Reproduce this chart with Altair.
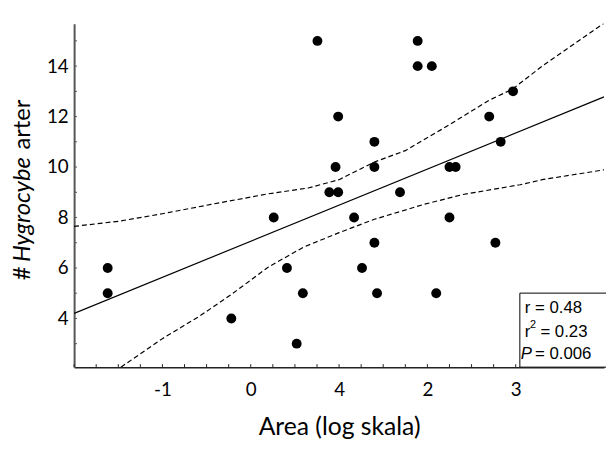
import altair as alt
import pandas as pd

# ---- data ----
area_log = [-1.62, -1.62, -0.22, 0.26, 0.41, 0.59, 0.52, 0.755, 0.89, 0.99,
            0.96, 0.99, 1.17, 1.26, 1.40, 1.40, 1.40, 1.43, 1.69, 1.89,
            1.89, 2.05, 2.10, 2.25, 2.32, 2.25, 2.70, 2.77, 2.83, 2.97]
species = [6, 5, 4, 8, 6, 5, 3, 15, 9, 9,
           10, 12, 8, 6, 11, 10, 7, 5, 9, 15,
           14, 14, 5, 10, 10, 8, 12, 7, 11, 13]

fit_x = [-2.0, 4.0]
fit_y = [4.2, 12.78]

upper_x = [-2.0, -1.5, -1.0, -0.45, 0.2, 0.65, 1.0, 1.4, 1.75, 2.18, 2.7, 2.96, 3.3, 4.0]
upper_y = [7.65, 7.85, 8.15, 8.52, 8.94, 9.17, 9.5, 10.2, 10.65, 11.53, 12.65, 13.08, 14.0, 15.7]

lower_x = [-1.47, -1.0, -0.58, -0.22, 0.2, 0.6, 1.0, 1.4, 1.96, 2.4, 3.05, 3.3, 4.0]
lower_y = [2.07, 3.2, 4.09, 4.95, 6.04, 6.83, 7.4, 7.93, 8.52, 8.91, 9.3, 9.5, 9.89]

x_tick_values = [-1, 0, 1, 2, 3]
x_tick_labels = ["-1", "0", "4", "2", "3"]
y_tick_values = [4, 6, 8, 10, 12, 14]
x_minor = [-2 + 0.25 * i for i in range(25)]
y_minor = list(range(3, 16))

stats_lines = ["r = 0.48", "= 0.23", "= 0.006"]
y_title_parts = ["#", "Hygrocybe", "arter"]

W, H = 537, 348
XD = [-2, 4]
YD = [2.07, 15.68]
FONT = "Lato"

xs = alt.Scale(domain=XD, nice=False, zero=False)
ys = alt.Scale(domain=YD, nice=False, zero=False)

label_expr = "[" + ",".join("'%s'" % s for s in x_tick_labels) + "][datum.value + 1]"

pts = pd.DataFrame({"x": area_log, "y": species})
fit = pd.DataFrame({"x": fit_x, "y": fit_y})
up = pd.DataFrame({"x": upper_x, "y": upper_y})
lo = pd.DataFrame({"x": lower_x, "y": lower_y})

xaxis = alt.Axis(values=x_tick_values, labelExpr=label_expr, grid=False, ticks=False,
                 labelFont=FONT, labelFontSize=19, labelColor="black", labelPadding=14,
                 domainColor="#222", domainWidth=1.5,
                 title="Area (log skala)", titleFont=FONT, titleFontSize=25,
                 titleFontWeight="normal", titleColor="black", titlePadding=15)
yaxis = alt.Axis(values=y_tick_values, grid=False, ticks=False,
                 labelFont=FONT, labelFontSize=19, labelColor="black", labelPadding=6,
                 domainColor="#555", domainWidth=2, title=None)

base_pts = alt.Chart(pts).mark_circle(size=100, color="black", opacity=1).encode(
    x=alt.X("x:Q", scale=xs, axis=xaxis),
    y=alt.Y("y:Q", scale=ys, axis=yaxis),
)

fit_line = alt.Chart(fit).mark_line(color="black", strokeWidth=1.2, clip=True).encode(
    x=alt.X("x:Q", scale=xs), y=alt.Y("y:Q", scale=ys))
up_line = alt.Chart(up).mark_line(color="black", strokeWidth=1.2, strokeDash=[5, 3],
                                  clip=True).encode(
    x=alt.X("x:Q", scale=xs), y=alt.Y("y:Q", scale=ys))
lo_line = alt.Chart(lo).mark_line(color="black", strokeWidth=1.2, strokeDash=[5, 3],
                                  clip=True).encode(
    x=alt.X("x:Q", scale=xs), y=alt.Y("y:Q", scale=ys))

xt = alt.Chart(pd.DataFrame({"t": x_minor})).mark_rule(color="#222", strokeWidth=1).encode(
    x=alt.X("t:Q", scale=xs), y=alt.value(H), y2=alt.value(H - 3))
yt = alt.Chart(pd.DataFrame({"t": y_minor})).mark_rule(color="#555", strokeWidth=1).encode(
    y=alt.Y("t:Q", scale=ys), x=alt.value(0), x2=alt.value(3))

one = pd.DataFrame({"a": [0]})
box = alt.Chart(one).mark_rect(fill="white", stroke="black", strokeWidth=1, clip=False).encode(
    x=alt.value(451.7), x2=alt.value(W + 10), y=alt.value(273), y2=alt.value(H))

def txt(s, x, y, size=17, style="normal", font="Liberation Sans", align="left"):
    return alt.Chart(one).mark_text(text=s, font=font, fontSize=size, fontStyle=style,
                                    align=align, baseline="middle", color="black").encode(
        x=alt.value(x), y=alt.value(y))

stats = [
    txt(stats_lines[0], 456.7, 288),
    txt("r", 456.7, 312.5),
    txt("2", 462.0, 305.5, size=11),
    txt(stats_lines[1], 472.5, 312.5),
    txt("P", 452.5, 335, style="italic"),
    txt(stats_lines[2], 467.0, 335),
]

YT_SIZE = 24
def ytitle(s, y, style="normal"):
    return alt.Chart(one).mark_text(text=s, font=FONT, fontSize=YT_SIZE, fontStyle=style,
                                    angle=270, align="left", baseline="middle",
                                    color="black").encode(x=alt.value(-52), y=alt.value(y))

y0 = 260
y1 = y0 - 0.77 * YT_SIZE
y2 = y1 - (4.55 + 0.2) * YT_SIZE
ytitles = [ytitle(y_title_parts[0], y0), ytitle(y_title_parts[1], y1, "italic"),
           ytitle(y_title_parts[2], y2)]

chart = alt.layer(up_line, lo_line, fit_line, base_pts, xt, yt, box, *stats, *ytitles).properties(
    width=W, height=H,
    autosize=alt.AutoSizeParams(type="none"),
    padding={"left": 67, "top": 13, "right": 2, "bottom": 80},
).configure_view(stroke=None)

chart.save("out.html", embed_options={"renderer": "svg", "actions": False})
